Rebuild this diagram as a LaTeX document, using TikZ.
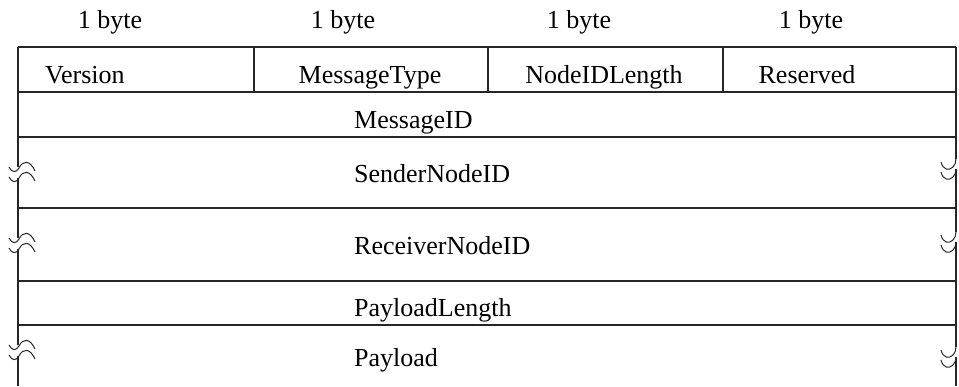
\documentclass[tikz,border=0pt]{standalone}
\usepackage{fontspec}
\setmainfont{Liberation Serif}
\begin{document}
\begin{tikzpicture}[x=1pt,y=-1pt,
  rule/.style={line width=1.1pt,black!85},
  wave/.style={line width=1pt,black!85},
  lbl/.style={anchor=base,inner sep=0pt,font=\fontsize{26}{30}\selectfont},
  fld/.style={anchor=base west,inner sep=0pt,font=\fontsize{26}{30}\selectfont},
  lbreak/.pic={
    \foreach \d in {-5,5}{
      \draw[wave] (-9,\d-1) .. controls (-6,\d+5) and (-2,\d+5) .. (1,\d)
                 .. controls (5,\d-8) and (12,\d-8) .. (17,\d+3);}
  },
  rbreak/.pic={
    \foreach \d in {-5,5}{
      \draw[wave] (-15,\d-5) .. controls (-13,\d+3) and (-7,\d+4) .. (-3,\d)
                 .. controls (-1,\d-2) and (0,\d-5) .. (0,\d-8);}
  }]
\useasboundingbox (0,0) rectangle (959,386);

% byte width captions
\node[lbl] (b1) at (110,28) {1 byte};
\node[lbl] (b2) at (343,28) {1 byte};
\node[lbl] (b3) at (579,28) {1 byte};
\node[lbl] (b4) at (811,28) {1 byte};

% horizontal rules of the header layout
\draw[rule] (18,47) -- (956,47);
\draw[rule] (18,92) -- (956,92);
\draw[rule] (18,137) -- (956,137);
\draw[rule] (18,208) -- (956,208);
\draw[rule] (18,281) -- (956,281);
\draw[rule] (18,325) -- (956,325);

% byte column separators
\draw[rule] (254,47) -- (254,92);
\draw[rule] (488,47) -- (488,92);
\draw[rule] (723,47) -- (723,92);

% left border, interrupted at variable-length fields
\draw[rule] (18,47) -- (18,167);
\draw[rule] (18,178) -- (18,238);
\draw[rule] (18,249) -- (18,345);
\draw[rule] (18,356) -- (18,386);
\pic at (18,173) {lbreak};
\pic at (18,244) {lbreak};
\pic at (18,351) {lbreak};

% right border, interrupted at variable-length fields
\draw[rule] (956,47) -- (956,159);
\draw[rule] (956,169) -- (956,232);
\draw[rule] (956,242) -- (956,347);
\draw[rule] (956,357) -- (956,386);
\pic at (956,172) {rbreak};
\pic at (956,245) {rbreak};
\pic at (956,360) {rbreak};

% field names
\node[fld] (ver) at (45,83) {Version};
\node[lbl] (mt) at (370,83) {MessageType};
\node[lbl] (nl) at (604,83) {NodeIDLength};
\node[lbl] (rs) at (807,83) {Reserved};
\node[fld] (mid) at (354,128) {MessageID};
\node[fld] (snd) at (354,182) {SenderNodeID};
\node[fld] (rcv) at (354,254) {ReceiverNodeID};
\node[fld] (pl) at (354,316) {PayloadLength};
\node[fld] (pay) at (354,366) {Payload};
\end{tikzpicture}
\end{document}
